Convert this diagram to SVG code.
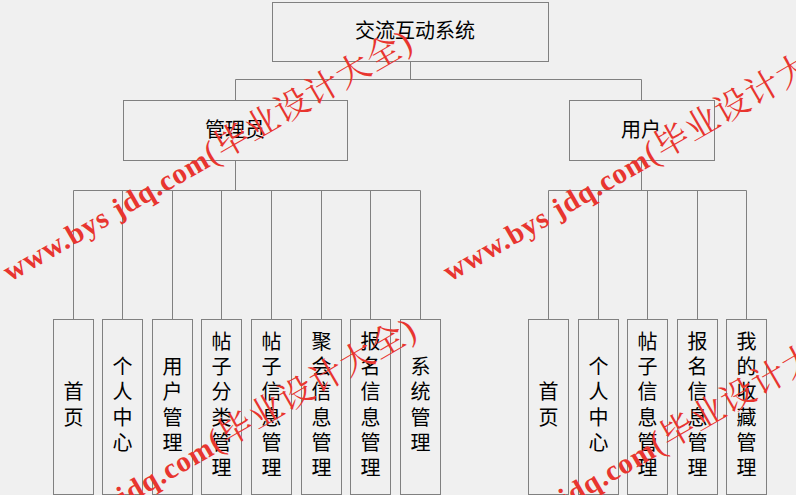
<svg xmlns="http://www.w3.org/2000/svg" xmlns:xlink="http://www.w3.org/1999/xlink" width="796" height="495" viewBox="0 0 796 495">
<defs>
<style>
.bg{fill:#f0f0f0}
.box{fill:#f0f0f0;stroke:#808080;stroke-width:1}
.ln{fill:none;stroke:#808080;stroke-width:1}
.t{font-family:"Noto Sans CJK SC","Noto Sans",sans-serif;font-size:20px;fill:#000;text-anchor:middle}
.wm{font-family:"Liberation Serif","Noto Serif CJK SC","Noto Sans CJK SC",serif;fill:#e8352f}
.wl{font-size:29px;font-weight:bold;letter-spacing:1px}
.wc{font-size:34px;letter-spacing:1px}
</style>
<text id="wmark" class="wm" transform="rotate(-30)"><tspan class="wl">www.bys jdq.com</tspan><tspan class="wc">(毕业设计大全)</tspan></text>
</defs>
<rect class="bg" x="0" y="0" width="796" height="495"/>

<g id="connectors">
<path class="ln" d="M410.5 61V79.5M235.5 79.5H641.5M235.5 79.5V100M641.5 79.5V100"/>
<path class="ln" d="M235.5 160V190.5M73.5 190.5H420.5M73.5 190.5V319M122.5 190.5V319M172.5 190.5V319M221.5 190.5V319M271.5 190.5V319M321.5 190.5V319M370.5 190.5V319M420.5 190.5V319"/>
<path class="ln" d="M641.5 160V190.5M548.5 190.5H746.5M548.5 190.5V319M598.5 190.5V319M647.5 190.5V319M697.5 190.5V319M746.5 190.5V319"/>
</g>

<g id="root"><rect class="box" x="272.5" y="2.5" width="276" height="59"/><text class="t" x="415" y="38">交流互动系统</text></g>
<g id="admin"><rect class="box" x="123.5" y="100.5" width="224" height="60"/><text class="t" x="235" y="137">管理员</text></g>
<g id="user"><rect class="box" x="569.5" y="100.5" width="145" height="60"/><text class="t" x="641" y="137">用户</text></g>

<g id="a1"><rect class="box" x="53.5" y="319.5" width="40" height="175"/><text class="t"><tspan x="73.5" y="399.4">首</tspan><tspan x="73.5" y="424.7">页</tspan></text></g>
<g id="a2"><rect class="box" x="102.5" y="319.5" width="40" height="175"/><text class="t"><tspan x="122.5" y="374">个</tspan><tspan x="122.5" y="399.4">人</tspan><tspan x="122.5" y="424.7">中</tspan><tspan x="122.5" y="450">心</tspan></text></g>
<g id="a3"><rect class="box" x="152.5" y="319.5" width="40" height="175"/><text class="t"><tspan x="172.5" y="374">用</tspan><tspan x="172.5" y="399.4">户</tspan><tspan x="172.5" y="424.7">管</tspan><tspan x="172.5" y="450">理</tspan></text></g>
<g id="a4"><rect class="box" x="201.5" y="319.5" width="40" height="175"/><text class="t"><tspan x="221.5" y="348.8">帖</tspan><tspan x="221.5" y="374">子</tspan><tspan x="221.5" y="399.4">分</tspan><tspan x="221.5" y="424.7">类</tspan><tspan x="221.5" y="450">管</tspan><tspan x="221.5" y="475.3">理</tspan></text></g>
<g id="a5"><rect class="box" x="251.5" y="319.5" width="40" height="175"/><text class="t"><tspan x="271.5" y="348.8">帖</tspan><tspan x="271.5" y="374">子</tspan><tspan x="271.5" y="399.4">信</tspan><tspan x="271.5" y="424.7">息</tspan><tspan x="271.5" y="450">管</tspan><tspan x="271.5" y="475.3">理</tspan></text></g>
<g id="a6"><rect class="box" x="301.5" y="319.5" width="40" height="175"/><text class="t"><tspan x="321.5" y="348.8">聚</tspan><tspan x="321.5" y="374">会</tspan><tspan x="321.5" y="399.4">信</tspan><tspan x="321.5" y="424.7">息</tspan><tspan x="321.5" y="450">管</tspan><tspan x="321.5" y="475.3">理</tspan></text></g>
<g id="a7"><rect class="box" x="350.5" y="319.5" width="40" height="175"/><text class="t"><tspan x="370.5" y="348.8">报</tspan><tspan x="370.5" y="374">名</tspan><tspan x="370.5" y="399.4">信</tspan><tspan x="370.5" y="424.7">息</tspan><tspan x="370.5" y="450">管</tspan><tspan x="370.5" y="475.3">理</tspan></text></g>
<g id="a8"><rect class="box" x="400.5" y="319.5" width="40" height="175"/><text class="t"><tspan x="420.5" y="374">系</tspan><tspan x="420.5" y="399.4">统</tspan><tspan x="420.5" y="424.7">管</tspan><tspan x="420.5" y="450">理</tspan></text></g>

<g id="u1"><rect class="box" x="528.5" y="319.5" width="40" height="175"/><text class="t"><tspan x="548.5" y="399.4">首</tspan><tspan x="548.5" y="424.7">页</tspan></text></g>
<g id="u2"><rect class="box" x="578.5" y="319.5" width="40" height="175"/><text class="t"><tspan x="598.5" y="374">个</tspan><tspan x="598.5" y="399.4">人</tspan><tspan x="598.5" y="424.7">中</tspan><tspan x="598.5" y="450">心</tspan></text></g>
<g id="u3"><rect class="box" x="627.5" y="319.5" width="40" height="175"/><text class="t"><tspan x="647.5" y="348.8">帖</tspan><tspan x="647.5" y="374">子</tspan><tspan x="647.5" y="399.4">信</tspan><tspan x="647.5" y="424.7">息</tspan><tspan x="647.5" y="450">管</tspan><tspan x="647.5" y="475.3">理</tspan></text></g>
<g id="u4"><rect class="box" x="677.5" y="319.5" width="40" height="175"/><text class="t"><tspan x="697.5" y="348.8">报</tspan><tspan x="697.5" y="374">名</tspan><tspan x="697.5" y="399.4">信</tspan><tspan x="697.5" y="424.7">息</tspan><tspan x="697.5" y="450">管</tspan><tspan x="697.5" y="475.3">理</tspan></text></g>
<g id="u5"><rect class="box" x="726.5" y="319.5" width="40" height="175"/><text class="t"><tspan x="746.5" y="348.8">我</tspan><tspan x="746.5" y="374">的</tspan><tspan x="746.5" y="399.4">收</tspan><tspan x="746.5" y="424.7">藏</tspan><tspan x="746.5" y="450">管</tspan><tspan x="746.5" y="475.3">理</tspan></text></g>

<g id="watermarks">
<use xlink:href="#wmark" transform="translate(10 282)"/>
<use xlink:href="#wmark" transform="translate(450 282)"/>
<use xlink:href="#wmark" transform="translate(14 570)"/>
<use xlink:href="#wmark" transform="translate(456 572)"/>
</g>
</svg>
